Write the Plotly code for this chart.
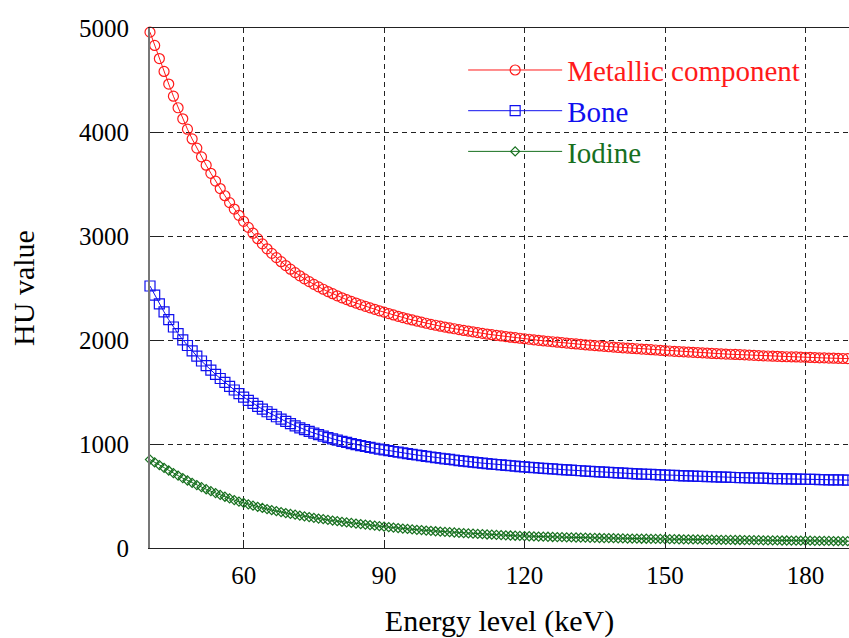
import plotly.graph_objects as go

energy_kev = list(range(40, 191))

metallic_hu = [
    4960, 4832, 4706, 4582, 4461, 4344, 4233, 4127, 4027, 3933,
    3845, 3761, 3681, 3603, 3528, 3456, 3387, 3321, 3259, 3199,
    3141, 3083, 3027, 2974, 2924, 2877, 2833, 2792, 2753, 2716,
    2681, 2648, 2617, 2588, 2561, 2535, 2511, 2488, 2466, 2445,
    2425, 2406, 2388, 2371, 2355, 2339, 2324, 2309, 2295, 2281,
    2268, 2254, 2241, 2228, 2216, 2204, 2193, 2182, 2172, 2161,
    2151, 2142, 2133, 2124, 2116, 2108, 2100, 2092, 2085, 2078,
    2071, 2064, 2057, 2051, 2045, 2039, 2033, 2027, 2022, 2017,
    2012, 2007, 2002, 1997, 1992, 1988, 1983, 1979, 1975, 1970,
    1966, 1962, 1958, 1954, 1950, 1946, 1943, 1939, 1935, 1932,
    1928, 1925, 1922, 1919, 1916, 1913, 1910, 1907, 1904, 1900,
    1897, 1894, 1891, 1889, 1886, 1884, 1881, 1879, 1876, 1874,
    1871, 1869, 1867, 1865, 1863, 1861, 1859, 1857, 1855, 1852,
    1850, 1848, 1846, 1844, 1843, 1841, 1839, 1838, 1837, 1835,
    1834, 1832, 1831, 1829, 1828, 1826, 1825, 1824, 1822, 1821,
    1820,
]

bone_hu = [
    2519, 2431, 2348, 2270, 2195, 2125, 2061, 2002, 1947, 1895,
    1845, 1798, 1753, 1710, 1669, 1630, 1592, 1555, 1519, 1485,
    1451, 1420, 1390, 1362, 1335, 1310, 1285, 1262, 1239, 1217,
    1195, 1175, 1156, 1138, 1121, 1105, 1090, 1076, 1062, 1050,
    1037, 1026, 1015, 1004, 994, 985, 976, 967, 959, 951,
    943, 936, 928, 921, 914, 907, 901, 894, 888, 881,
    875, 869, 863, 857, 852, 846, 841, 836, 831, 826,
    821, 816, 812, 807, 803, 799, 795, 791, 787, 783,
    780, 776, 773, 769, 766, 763, 760, 757, 754, 751,
    748, 745, 743, 740, 737, 735, 732, 729, 727, 725,
    722, 720, 718, 715, 713, 711, 709, 707, 705, 703,
    701, 699, 698, 696, 694, 693, 691, 689, 688, 686,
    685, 684, 682, 681, 679, 678, 677, 676, 674, 673,
    672, 671, 670, 668, 667, 666, 665, 664, 663, 662,
    661, 660, 659, 658, 657, 656, 656, 655, 654, 653,
    652,
]

iodine_hu = [
    850, 823, 797, 771, 745, 720, 696, 672, 649, 627,
    605, 585, 565, 546, 528, 510, 493, 477, 461, 446,
    433, 420, 407, 396, 385, 374, 364, 354, 345, 336,
    328, 320, 312, 304, 297, 290, 283, 277, 270, 264,
    258, 252, 246, 241, 235, 230, 225, 220, 215, 210,
    205, 200, 196, 192, 187, 183, 179, 175, 172, 168,
    165, 161, 158, 155, 152, 149, 146, 143, 140, 138,
    135, 133, 130, 128, 126, 124, 122, 120, 118, 116,
    114, 113, 111, 110, 109, 108, 106, 105, 104, 103,
    102, 101, 100, 99, 98, 97, 96, 95, 95, 94,
    93, 92, 91, 91, 90, 89, 89, 88, 87, 87,
    86, 85, 85, 84, 83, 83, 82, 82, 81, 81,
    80, 79, 79, 78, 78, 77, 77, 76, 76, 75,
    75, 74, 74, 73, 73, 72, 72, 71, 71, 70,
    70, 70, 69, 69, 68, 68, 67, 67, 66, 66,
    65,
]

series_names = ["Metallic component", "Bone", "Iodine"]
series_colors = ["#ff1a1a", "#1010ee", "#17701f"]
series_symbols = ["circle-open", "square-open", "diamond-open"]
series_sizes = [10, 10, 7]

x_tick_vals = [60, 90, 120, 150, 180]
y_tick_vals = [0, 1000, 2000, 3000, 4000, 5000]

FONT = "Liberation Serif, Times New Roman, serif"

fig = go.Figure()
for name, vals, col, sym, sz in zip(series_names, [metallic_hu, bone_hu, iodine_hu],
                                    series_colors, series_symbols, series_sizes):
    fig.add_trace(go.Scatter(
        x=energy_kev, y=vals, mode="lines+markers",
        name=f"<span style='color:{col}'>{name}</span>",
        line=dict(color=col, width=1),
        marker=dict(symbol=sym, size=sz, color=col, line=dict(width=1.2, color=col)),
        cliponaxis=False,
    ))

fig.update_layout(
    width=849, height=638,
    margin=dict(l=150, r=0, t=28, b=90, autoexpand=False),
    paper_bgcolor="white", plot_bgcolor="white",
    font=dict(family=FONT, size=25, color="black"),
    showlegend=True,
    legend=dict(
        x=0.448, y=0.968, xanchor="left", yanchor="top",
        bgcolor="rgba(0,0,0,0)", borderwidth=0,
        font=dict(family=FONT, size=29),
        itemwidth=94, tracegroupgap=0,
    ),
    xaxis=dict(
        range=[40, 189.3], tickvals=x_tick_vals,
        showgrid=True, gridcolor="#222", griddash="5px,4px", gridwidth=1,
        showline=True, linecolor="#222", linewidth=1, mirror=True,
        ticks="inside", ticklen=8, tickcolor="#222", tickwidth=1,
        zeroline=False, automargin=False,
        title=dict(text="Energy level (keV)", font=dict(size=30), standoff=22),
        ticklabelstandoff=5,
    ),
    yaxis=dict(
        range=[0, 5000], tickvals=y_tick_vals,
        showgrid=True, gridcolor="#222", griddash="5px,4px", gridwidth=1,
        showline=True, linecolor="#777", linewidth=2,
        ticks="inside", ticklen=12, tickcolor="#222", tickwidth=1,
        zeroline=False, automargin=False,
        title=dict(text="HU value", font=dict(size=30), standoff=36),
        ticklabelstandoff=14,
    ),
)

fig.write_html(
    "out.html",
    config={"displayModeBar": False},
    post_script="document.body.style.margin='0';document.body.style.overflow='hidden';",
)
